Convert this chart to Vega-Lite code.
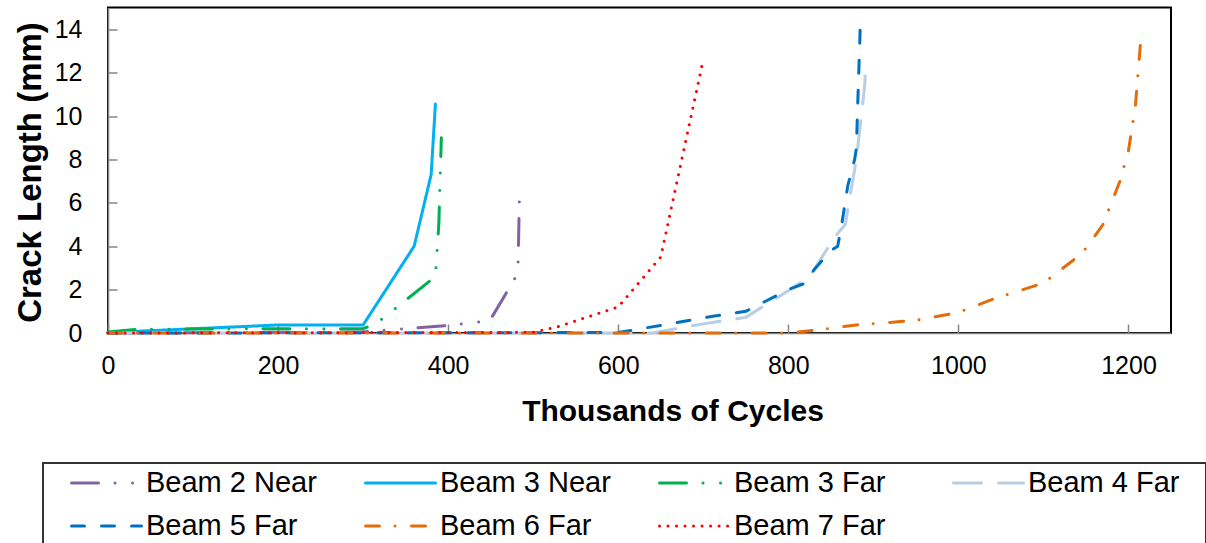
{
  "$schema": "https://vega.github.io/schema/vega-lite/v6.json",
  "width": 1063,
  "height": 325.5,
  "autosize": {"type": "none"},
  "padding": {"left": 108, "top": 7.5, "right": 35, "bottom": 210},
  "background": "white",
  "config": {
    "font": "Liberation Sans",
    "view": {"stroke": "black", "strokeWidth": 2},
    "axis": {
      "grid": false,
      "domainColor": "#868686",
      "domainWidth": 1.5,
      "tickColor": "#868686",
      "tickWidth": 1.5,
      "tickSize": -9,
      "labelFlush": false,
      "labelFont": "Liberation Sans",
      "labelFontSize": 25,
      "labelColor": "black",
      "titleFont": "Liberation Sans",
      "titleFontWeight": "bold",
      "titleColor": "black"
    },
    "legend": {
      "labelFont": "Liberation Sans",
      "labelFontSize": 29,
      "labelColor": "black",
      "strokeWidth": 2
    }
  },
  "data": {
    "values": [
      {"s": "Beam 2 Near", "x": 0, "y": 0},
      {"s": "Beam 2 Near", "x": 300, "y": 0.05},
      {"s": "Beam 2 Near", "x": 350, "y": 0.2},
      {"s": "Beam 2 Near", "x": 400, "y": 0.35},
      {"s": "Beam 2 Near", "x": 449, "y": 0.57},
      {"s": "Beam 2 Near", "x": 482, "y": 2.75},
      {"s": "Beam 2 Near", "x": 484, "y": 6.6},

      {"s": "Beam 3 Near", "x": 0, "y": 0.02},
      {"s": "Beam 3 Near", "x": 200, "y": 0.37},
      {"s": "Beam 3 Near", "x": 300, "y": 0.37},
      {"s": "Beam 3 Near", "x": 360, "y": 4.0},
      {"s": "Beam 3 Near", "x": 380, "y": 7.3},
      {"s": "Beam 3 Near", "x": 385, "y": 10.55},

      {"s": "Beam 3 Far", "x": 0, "y": 0.05},
      {"s": "Beam 3 Far", "x": 35, "y": 0.17},
      {"s": "Beam 3 Far", "x": 100, "y": 0.18},
      {"s": "Beam 3 Far", "x": 200, "y": 0.2},
      {"s": "Beam 3 Far", "x": 300, "y": 0.2},
      {"s": "Beam 3 Far", "x": 316, "y": 0.45},
      {"s": "Beam 3 Far", "x": 385, "y": 2.6},
      {"s": "Beam 3 Far", "x": 389, "y": 5.0},
      {"s": "Beam 3 Far", "x": 392, "y": 9.0},

      {"s": "Beam 4 Far", "x": 0, "y": 0},
      {"s": "Beam 4 Far", "x": 640, "y": 0},
      {"s": "Beam 4 Far", "x": 700, "y": 0.42},
      {"s": "Beam 4 Far", "x": 750, "y": 0.72},
      {"s": "Beam 4 Far", "x": 800, "y": 1.95},
      {"s": "Beam 4 Far", "x": 825, "y": 2.6},
      {"s": "Beam 4 Far", "x": 855, "y": 4.45},
      {"s": "Beam 4 Far", "x": 867, "y": 5.0},
      {"s": "Beam 4 Far", "x": 873, "y": 6.4},
      {"s": "Beam 4 Far", "x": 880, "y": 8.0},
      {"s": "Beam 4 Far", "x": 887, "y": 10.4},
      {"s": "Beam 4 Far", "x": 890, "y": 11.5},
      {"s": "Beam 4 Far", "x": 891, "y": 12.6},

      {"s": "Beam 5 Far", "x": 0, "y": 0},
      {"s": "Beam 5 Far", "x": 600, "y": 0.02},
      {"s": "Beam 5 Far", "x": 650, "y": 0.35},
      {"s": "Beam 5 Far", "x": 700, "y": 0.7},
      {"s": "Beam 5 Far", "x": 750, "y": 1.0},
      {"s": "Beam 5 Far", "x": 800, "y": 2.0},
      {"s": "Beam 5 Far", "x": 820, "y": 2.3},
      {"s": "Beam 5 Far", "x": 830, "y": 2.9},
      {"s": "Beam 5 Far", "x": 850, "y": 3.8},
      {"s": "Beam 5 Far", "x": 858, "y": 4.0},
      {"s": "Beam 5 Far", "x": 862, "y": 4.8},
      {"s": "Beam 5 Far", "x": 870, "y": 6.8},
      {"s": "Beam 5 Far", "x": 878, "y": 8.0},
      {"s": "Beam 5 Far", "x": 880, "y": 8.5},
      {"s": "Beam 5 Far", "x": 882, "y": 11.0},
      {"s": "Beam 5 Far", "x": 884, "y": 13.4},
      {"s": "Beam 5 Far", "x": 885, "y": 14.7},

      {"s": "Beam 6 Far", "x": 0, "y": 0},
      {"s": "Beam 6 Far", "x": 800, "y": 0},
      {"s": "Beam 6 Far", "x": 830, "y": 0.12},
      {"s": "Beam 6 Far", "x": 880, "y": 0.37},
      {"s": "Beam 6 Far", "x": 950, "y": 0.58},
      {"s": "Beam 6 Far", "x": 1000, "y": 0.95},
      {"s": "Beam 6 Far", "x": 1040, "y": 1.55},
      {"s": "Beam 6 Far", "x": 1100, "y": 2.3},
      {"s": "Beam 6 Far", "x": 1135, "y": 3.35},
      {"s": "Beam 6 Far", "x": 1150, "y": 3.9},
      {"s": "Beam 6 Far", "x": 1170, "y": 5.0},
      {"s": "Beam 6 Far", "x": 1190, "y": 7.0},
      {"s": "Beam 6 Far", "x": 1200, "y": 8.4},
      {"s": "Beam 6 Far", "x": 1208, "y": 10.4},
      {"s": "Beam 6 Far", "x": 1214, "y": 13.3},

      {"s": "Beam 7 Far", "x": 0, "y": 0},
      {"s": "Beam 7 Far", "x": 500, "y": 0.03},
      {"s": "Beam 7 Far", "x": 530, "y": 0.3},
      {"s": "Beam 7 Far", "x": 600, "y": 1.2},
      {"s": "Beam 7 Far", "x": 650, "y": 3.5},
      {"s": "Beam 7 Far", "x": 700, "y": 12.6}
    ]
  },
  "mark": {"type": "line", "strokeWidth": 3, "strokeCap": "round", "strokeJoin": "round"},
  "encoding": {
    "x": {
      "field": "x",
      "type": "quantitative",
      "scale": {"domain": [0, 1250], "nice": false},
      "axis": {
        "values": [0, 200, 400, 600, 800, 1000, 1200],
        "format": "d",
        "labelPadding": 29,
        "title": "Thousands of Cycles",
        "titleFontSize": 30,
        "titleX": 564.5,
        "titleY": 87,
        "titleBaseline": "alphabetic",
        "titleAlign": "center"
      }
    },
    "y": {
      "field": "y",
      "type": "quantitative",
      "scale": {"domain": [0, 15], "nice": false},
      "axis": {
        "values": [0, 2, 4, 6, 8, 10, 12, 14],
        "format": "d",
        "labelPadding": 35,
        "title": "Crack Length (mm)",
        "titleFontSize": 33,
        "titleX": -68,
        "titleY": 164.5,
        "titleAngle": -90,
        "titleBaseline": "alphabetic",
        "titleAlign": "center"
      }
    },
    "color": {
      "field": "s",
      "type": "nominal",
      "scale": {
        "domain": ["Beam 2 Near", "Beam 3 Near", "Beam 3 Far", "Beam 4 Far", "Beam 5 Far", "Beam 6 Far", "Beam 7 Far"],
        "range": ["#8064A2", "#00B0F0", "#00B050", "#B9CDE5", "#0070C0", "#E46C0A", "#FF0000"]
      },
      "legend": {
        "orient": "none",
        "legendX": -65,
        "legendY": 455.5,
        "direction": "horizontal",
        "columns": 4,
        "gridAlign": "all",
        "symbolType": "stroke",
        "symbolSize": 4900,
        "symbolStrokeWidth": 3,
        "symbolOffset": 20,
        "labelOffset": 3,
        "labelLimit": 400,
        "clipHeight": 26,
        "rowPadding": 14,
        "columnPadding": 27,
        "padding": 7,
        "strokeColor": "#333333",
        "fillColor": "white",
        "title": " ",
        "titleOrient": "right",
        "titlePadding": 20,
        "titleFontSize": 10,
        "encode": {"symbols": {"update": {"strokeCap": {"value": "round"}}}}
      }
    },
    "strokeDash": {
      "field": "s",
      "type": "nominal",
      "scale": {
        "domain": ["Beam 2 Near", "Beam 3 Near", "Beam 3 Far", "Beam 4 Far", "Beam 5 Far", "Beam 6 Far", "Beam 7 Far"],
        "range": [
          [27, 16.5, 0.01, 17.5, 0.01, 16.5],
          [1, 0],
          [27, 16.5, 0.01, 17.5, 0.01, 16.5],
          [28, 17],
          [13, 17],
          [14, 15.5, 0.01, 16.5],
          [0.01, 8.5]
        ]
      },
      "legend": null
    }
  }
}
